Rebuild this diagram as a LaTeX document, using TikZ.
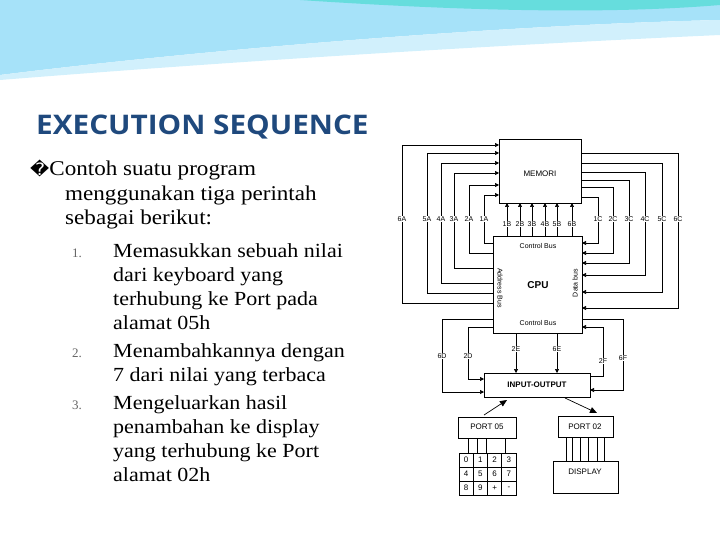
\documentclass[tikz,border=0pt]{standalone}
\usepackage{fontspec}
\setmainfont{Liberation Serif}
\newfontfamily\djsym{DejaVu Sans}
\newfontfamily\hs{Liberation Sans}
\newfontfamily\ttl{Open Sans}
\usetikzlibrary{arrows.meta}
\definecolor{ttlc}{RGB}{31,73,125}
\tikzset{
  wire/.style={line width=0.7pt},
  arr/.style={wire,-{Triangle[length=4pt,width=4pt]}},
  box/.style={draw,line width=0.8pt,inner sep=0},
  lab/.style={font=\hs\fontsize{7}{8}\selectfont,inner sep=0},
  body/.style={anchor=base west,inner sep=0,font=\fontsize{21}{22}\selectfont,xscale=1.1}
}
\begin{document}
\begin{tikzpicture}[x=1pt,y=-1pt]
\useasboundingbox (0,0) rectangle (720,540);
% header waves
\fill[cyan!35!white] (0,0) -- (720,0) -- (720,20) .. controls (500,25) and (200,50) .. (0,75) -- cycle;
\fill[cyan!18!white] (0,75) .. controls (200,50) and (500,25) .. (720,20) -- (720,35) .. controls (500,45) and (250,60) .. (0,80) -- cycle;
\fill[teal!45!cyan!60!white] (300,0) .. controls (450,10) and (600,15) .. (720,5) -- (720,0) -- cycle;
% title
\node[anchor=base west,inner sep=0,text=ttlc,font=\ttl\bfseries\fontsize{27}{28}\selectfont,xscale=1.1] (title) at (36,135) {EXECUTION SEQUENCE};
\node[body] (b0) at (30,176) {{\djsym\fontsize{17}{18}\selectfont �}Contoh suatu program};
\node[body] (b1) at (65,201) {menggunakan tiga perintah};
\node[body] (b2) at (65,225) {sebagai berikut:};
\tikzset{itm/.style={body,font=\fontsize{20}{21}\selectfont},num/.style={anchor=base west,inner sep=0,text=gray!80!black,font=\fontsize{13}{14}\selectfont}}
\node[num] (n1) at (72,257) {1.};
\node[itm] (i1) at (113,257) {Memasukkan sebuah nilai};
\node[itm] (i2) at (113,281) {dari keyboard yang};
\node[itm] (i3) at (113,305) {terhubung ke Port pada};
\node[itm] (i4) at (113,329) {alamat 05h};
\node[num] (n2) at (72,357) {2.};
\node[itm] (i5) at (113,357) {Menambahkannya dengan};
\node[itm] (i6) at (113,381) {7 dari nilai yang terbaca};
\node[num] (n3) at (72,409) {3.};
\node[itm] (i7) at (113,409) {Mengeluarkan hasil};
\node[itm] (i8) at (113,433) {penambahan ke display};
\node[itm] (i9) at (113,457) {yang terhubung ke Port};
\node[itm] (i10) at (113,481) {alamat 02h};
% diagram boxes
\draw[box] (499,139) rectangle (581,203);
\node[lab,font=\hs\fontsize{8}{9}\selectfont] (mem) at (540,174) {MEMORI};
\draw[box] (493,236) rectangle (582,333);
\node[lab,font=\hs\bfseries\fontsize{10}{11}\selectfont] (cpu) at (538,285) {CPU};
\node[lab] (cb1) at (538,246) {Control Bus};
\node[lab] (cb2) at (538,323) {Control Bus};
\node[lab,rotate=-90] (ab) at (500,288) {Address Bus};
\node[lab,rotate=90] (db) at (575,283) {Data bus};
% A wires
\foreach \x/\ym/\yc/\n in {402/145/303/6A,427/153/293/5A,441/163/283/4A,454/173/268/3A,469/185/253/2A,484/195/243/1A}{
  \draw[arr] (493,\yc) -- (\x,\yc) -- (\x,\ym) -- (499,\ym);
  \node[lab,fill=white,inner sep=1pt] at (\x,219) {\n};}
% B wires
\foreach \x/\n in {507/1B,520/2B,532/3B,545/4B,557/5B,572/6B}{
  \draw[arr] (\x,236) -- (\x,203);
  \node[lab,fill=white,inner sep=1pt] at (\x,224) {\n};}
% C wires
\foreach \x/\ym/\yc/\n in {598/197/243/1C,613/187/253/2C,629/180/263/3C,645/172/275/4C,662/163/292/5C,678/153/308/6C}{
  \draw[arr] (581,\ym) -- (\x,\ym) -- (\x,\yc) -- (582,\yc);
  \node[lab,fill=white,inner sep=1pt] at (\x,219) {\n};}
% IO
\draw[box] (484,373) rectangle (590,397);
\node[lab,font=\hs\bfseries\fontsize{8}{9}\selectfont] (io) at (537,385) {INPUT-OUTPUT};
\draw[arr] (493,319) -- (442,319) -- (442,392) -- (484,392);
\draw[arr] (493,327) -- (468,327) -- (468,379) -- (484,379);
\node[lab,fill=white,inner sep=1pt] at (442,356) {6D};
\node[lab,fill=white,inner sep=1pt] at (468,356) {2D};
\draw[arr] (516,333) -- (516,373);
\draw[arr] (557,333) -- (557,373);
\node[lab,fill=white,inner sep=1pt] at (516,349) {2E};
\node[lab,fill=white,inner sep=1pt] at (557,349) {6E};
\draw[arr] (590,376) -- (603,376) -- (603,327) -- (582,327);
\draw[arr] (582,319) -- (623,319) -- (623,390) -- (590,390);
\node[lab,fill=white,inner sep=1pt] at (603,361) {2F};
\node[lab,fill=white,inner sep=1pt] at (623,358) {6F};
% ports
\draw[box] (458,417) rectangle (516,438);
\node[lab,font=\hs\fontsize{8}{9}\selectfont] (p5) at (487,427) {PORT 05};
\draw[box] (558,416) rectangle (613,437);
\node[lab,font=\hs\fontsize{8}{9}\selectfont] (p2) at (585,427) {PORT 02};
\draw[wire,-{Triangle[length=7pt,width=6pt]}] (484,415) -- (507,400);
\draw[wire,-{Triangle[length=7pt,width=6pt]}] (565,398) -- (597,413);
% keypad
\draw[box] (459,453) rectangle (516,495);
\foreach \x in {473.25,487.5,501.75} \draw[wire] (\x,453) -- (\x,495);
\foreach \y in {467,481} \draw[wire] (459,\y) -- (516,\y);
\foreach \t [count=\i from 0] in {0,1,2,3,4,5,6,7,8,9,+,-}{
  \pgfmathsetmacro\cx{466.1+14.25*mod(\i,4)}
  \pgfmathsetmacro\cy{460+14*int(\i/4)}
  \node[lab,font=\hs\fontsize{8}{9}\selectfont] at (\cx,\cy) {\t};}
\foreach \x in {468,477,486,505} \draw[wire] (\x,438) -- (\x,453);
% display
\draw[box] (553,461) rectangle (618,493);
\node[lab,font=\hs\fontsize{8}{9}\selectfont] (disp) at (585,472) {DISPLAY};
\foreach \x in {566,572,580,588,597,604} \draw[wire] (\x,437) -- (\x,461);
\end{tikzpicture}
\end{document}
